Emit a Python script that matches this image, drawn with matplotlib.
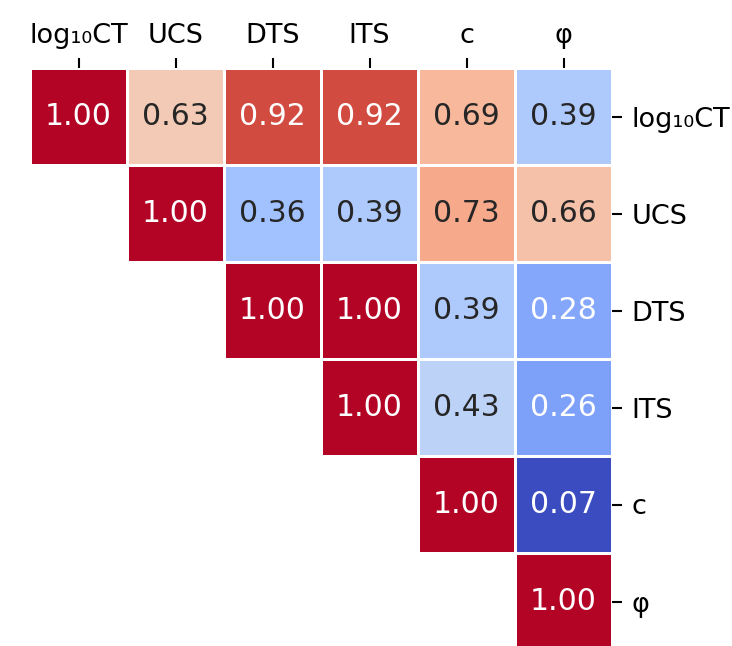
import numpy as np
import matplotlib
matplotlib.use("Agg")
import matplotlib.pyplot as plt
import seaborn as sns

labels = ["log₁₀CT", "UCS", "DTS", "ITS", "c", "φ"]
row0 = [1.00, 0.63, 0.92, 0.92, 0.69, 0.39]
row1 = [0.63, 1.00, 0.36, 0.39, 0.73, 0.66]
row2 = [0.92, 0.36, 1.00, 1.00, 0.39, 0.28]
row3 = [0.92, 0.39, 1.00, 1.00, 0.43, 0.26]
row4 = [0.69, 0.73, 0.39, 0.43, 1.00, 0.07]
row5 = [0.39, 0.66, 0.28, 0.26, 0.07, 1.00]

corr = np.array([row0, row1, row2, row3, row4, row5])
mask = np.tril(np.ones_like(corr, dtype=bool), k=-1)

fig = plt.figure(figsize=(7.32, 6.46), dpi=100)
ax = fig.add_axes([30/732, 1 - 650/646, 582/732, 582/646])
sns.heatmap(corr, mask=mask, cmap="coolwarm", annot=True, fmt=".2f",
            annot_kws={"size": 21.5}, linewidths=1.0, linecolor="white",
            cbar=False, square=False, ax=ax,
            xticklabels=labels, yticklabels=labels)
ax.xaxis.tick_top()
ax.yaxis.tick_right()
ax.tick_params(axis="both", labelsize=19.5, length=7, width=1.5, pad=7)
plt.setp(ax.get_yticklabels(), rotation=0)
plt.setp(ax.get_xticklabels(), rotation=0)
fig.savefig("out.png", dpi=100)
